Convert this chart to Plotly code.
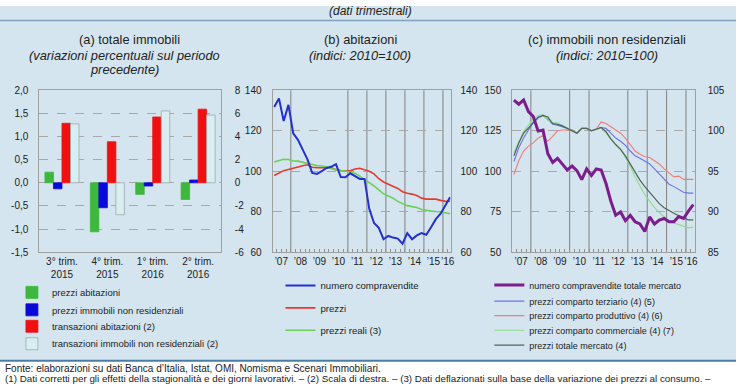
import plotly.graph_objects as go

# ---------------- DATA ----------------
# Panel (a): quarterly % changes
a_categories = ["3° trim.<br>2015", "4° trim.<br>2015", "1° trim.<br>2016", "2° trim.<br>2016"]
a_prezzi_abitazioni = [0.23, -1.06, -0.25, -0.36]          # left axis
a_prezzi_non_res = [-0.13, -0.54, -0.07, 0.06]             # left axis
a_transazioni_abitazioni = [5.15, 3.55, 5.69, 6.37]        # right axis
a_transazioni_non_res = [5.10, -2.76, 6.22, 5.86]          # right axis
a_left_tickvals = [-1.5, -1.0, -0.5, 0.0, 0.5, 1.0, 1.5, 2.0]
a_left_ticktext = ["-1,5", "-1,0", "-0,5", "0,0", "0,5", "1,0", "1,5", "2,0"]
a_right_tickvals = [-6, -4, -2, 0, 2, 4, 6, 8]
a_right_ticktext = ["-6", "-4", "-2", "0", "2", "4", "6", "8"]

# Quarterly series 2007Q1 .. 2016Q2 (38 quarters)
quarters = list(range(38))
year_labels = ["’07", "’08", "’09", "’10", "’11", "’12", "’13", "’14", "’15", "’16"]
year_label_pos = [1.5, 5.5, 9.5, 13.5, 17.5, 21.5, 25.5, 29.5, 33.5, 36.5]

# Panel (b): abitazioni (2010=100)
b_compravendite = [131.8, 136.0, 124.8, 132.8, 118.7, 115.5, 110.7, 105.9, 99.2, 98.7,
                   100.0, 101.6, 102.2, 103.5, 97.1, 97.0, 99.0, 97.4, 96.2, 96.2,
                   81.4, 74.4, 72.0, 66.4, 68.0, 67.2, 66.7, 64.2, 69.4, 66.4,
                   68.3, 69.4, 68.6, 72.3, 76.3, 79.0, 83.0, 87.2]
b_prezzi = [97.9, 99.2, 100.3, 100.9, 101.6, 102.0, 102.7, 103.2, 102.0, 101.8,
            101.8, 101.8, 101.7, 100.8, 100.3, 100.2, 100.2, 101.1, 101.5, 100.7,
            100.0, 98.7, 96.3, 94.7, 93.6, 92.6, 91.5, 89.9, 89.1, 88.7,
            88.0, 86.7, 86.2, 86.3, 86.2, 85.6, 85.1, 85.2]
b_prezzi_reali = [104.6, 105.1, 105.9, 105.8, 105.1, 105.0, 104.5, 103.8, 103.2, 102.8,
                  102.6, 102.2, 101.3, 100.7, 100.3, 100.1, 99.6, 99.0, 97.6, 96.2,
                  94.4, 92.7, 90.7, 88.8, 87.8, 86.7, 85.1, 84.0, 83.0, 82.5,
                  82.1, 81.1, 80.6, 80.3, 80.1, 80.0, 79.5, 79.0]
b_vline_years = [2008, 2011, 2012, 2013, 2014, 2015, 2016]

# Panel (c): immobili non residenziali (2010=100)
c_compravendite = [144.0, 141.4, 144.0, 136.8, 133.8, 124.8, 125.4, 110.8, 105.4, 108.0,
                   104.4, 100.8, 103.2, 100.4, 94.8, 101.4, 97.4, 101.4, 100.8, 92.4,
                   81.4, 72.8, 74.8, 69.4, 72.8, 68.8, 67.4, 62.8, 71.8, 67.4,
                   69.8, 70.8, 68.8, 68.8, 72.0, 70.8, 75.4, 79.4]
c_terziario = [96.2, 97.9, 99.1, 100.1, 101.1, 101.7, 101.9, 101.4, 100.8, 100.7,
               100.5, 100.3, 100.1, 99.7, 100.3, 100.3, 100.0, 100.2, 100.4, 100.3,
               99.7, 99.1, 98.7, 98.2, 97.5, 96.9, 96.6, 96.3, 95.9, 95.3,
               94.7, 94.1, 93.4, 93.1, 92.7, 92.4, 92.3, 92.3]
c_produttivo = [94.6, 96.3, 97.5, 98.1, 98.5, 99.1, 99.4, 98.7, 99.3, 100.0,
                100.1, 100.1, 100.0, 99.7, 100.3, 100.3, 100.0, 100.2, 101.1, 100.9,
                100.5, 100.1, 99.7, 99.1, 98.3, 97.5, 97.1, 96.8, 96.7, 96.3,
                95.9, 95.3, 94.8, 94.3, 94.4, 94.0, 94.0, 94.0]
c_commerciale = [97.3, 98.7, 99.9, 100.7, 101.5, 101.9, 102.0, 101.3, 101.0, 101.0,
                 100.7, 100.4, 100.1, 99.7, 100.3, 100.3, 100.0, 100.2, 100.4, 99.7,
                 98.9, 98.3, 97.7, 96.7, 95.6, 94.3, 93.1, 92.1, 91.3, 90.5,
                 89.9, 89.3, 88.8, 88.6, 88.4, 88.2, 88.0, 88.1]
c_totale = [96.9, 98.5, 99.7, 100.3, 100.9, 101.6, 101.9, 101.7, 100.9, 100.8,
            100.6, 100.3, 100.1, 99.7, 100.3, 100.3, 100.0, 100.2, 100.4, 99.9,
            99.0, 98.3, 97.7, 96.9, 95.9, 94.9, 93.9, 93.1, 92.4, 91.7,
            91.0, 90.5, 90.1, 89.8, 89.5, 89.2, 89.0, 89.0]
c_vline_years = [2008, 2010, 2011, 2013, 2014, 2015, 2016]

# ---------------- STYLE ----------------
W, H = 740, 389
FONT = "Liberation Sans, Arial, sans-serif"
TXT = "#222222"
FRAME = "#a0a0a0"
GRID = "#a8a8a8"
BG_BLUE = "#d5e5ef"

def fx(px):
    return px / W

def fy(py):
    return 1 - py / H

dom_a = [fx(39.5), fx(222)]
dom_b = [fx(274), fx(453)]
dom_c = [fx(515), fx(698.5)]
dom_y = [fy(254), fy(87)]

fig = go.Figure()

# ---- Panel (a) bars ----
bar_specs = [
    ("prezzi abitazioni", a_prezzi_abitazioni, "y", "#3cb83c", "#3cb83c", "legend"),
    ("prezzi immobili non residenziali", a_prezzi_non_res, "y", "#0a0ad8", "#0a0ad8", "legend2"),
    ("transazioni abitazioni (2)", a_transazioni_abitazioni, "y2", "#f01010", "#f01010", "legend3"),
    ("transazioni immobili non residenziali (2)", a_transazioni_non_res, "y2", "#d9eef0", "#9aa8ac", "legend4"),
]
for k, (name, vals, yax, col, lcol, leg) in enumerate(bar_specs):
    fig.add_trace(go.Bar(
        x=a_categories, y=vals, name=name, xaxis="x", yaxis=yax,
        marker=dict(color=col, line=dict(color=lcol, width=0.8)),
        offsetgroup=str(k), alignmentgroup="a", legend=leg,
    ))

# ---- Panel (b) lines ----
fig.add_trace(go.Scatter(x=quarters, y=b_prezzi, name="prezzi", mode="lines",
                         line=dict(color="#e43a2f", width=1.6), xaxis="x2", yaxis="y3", legend="legend6"))
fig.add_trace(go.Scatter(x=quarters, y=b_prezzi_reali, name="prezzi reali (3)", mode="lines",
                         line=dict(color="#6ccf58", width=1.6), xaxis="x2", yaxis="y3", legend="legend7"))
fig.add_trace(go.Scatter(x=quarters, y=b_compravendite, name="numero compravendite", mode="lines",
                         line=dict(color="#2230d0", width=2), xaxis="x2", yaxis="y4", legend="legend5"))

# ---- Panel (c) lines ----
c_specs = [
    ("prezzi comparto terziario (4) (5)", c_terziario, "#6a72e6", 1.1, "legend9"),
    ("prezzi comparto produttivo (4) (6)", c_produttivo, "#f07c78", 1.1, "legend10"),
    ("prezzi comparto commerciale (4) (7)", c_commerciale, "#8ddc8a", 1.1, "legend11"),
    ("prezzi totale mercato (4)", c_totale, "#4f6458", 1.2, "legend12"),
]
for name, vals, col, w, leg in c_specs:
    fig.add_trace(go.Scatter(x=quarters, y=vals, name=name, mode="lines",
                             line=dict(color=col, width=w), xaxis="x3", yaxis="y5", legend=leg))
fig.add_trace(go.Scatter(x=quarters, y=c_compravendite, name="numero compravendite totale mercato",
                         mode="lines", line=dict(color="#7b1d8c", width=3), xaxis="x3", yaxis="y6",
                         legend="legend8"))

# ---------------- AXES ----------------
tickfont = dict(family=FONT, size=10, color=TXT)
common_y = dict(showline=True, mirror=True, linecolor=FRAME, linewidth=1, ticks="",
                tickfont=tickfont, zeroline=False, fixedrange=True)
grid_style = dict(showgrid=True, gridcolor=GRID, griddash="dash", gridwidth=0.8)

year_minor = dict(ticks="inside", ticklen=3, tick0=0.5, dtick=1, tickcolor="#909090", showgrid=False)

fig.update_layout(
    xaxis=dict(domain=dom_a, anchor="y", type="category", showline=True, mirror=True,
               linecolor=FRAME, ticks="", tickfont=dict(family=FONT, size=10, color=TXT),
               showgrid=False, tickangle=0),
    yaxis=dict(domain=dom_y, anchor="x", range=[-1.5, 2.0], tickmode="array",
               tickvals=a_left_tickvals, ticktext=a_left_ticktext, ticklabelstandoff=8,
               **grid_style, **common_y),
    yaxis2=dict(overlaying="y", side="right", anchor="x", range=[-6, 8], tickmode="array",
                tickvals=a_right_tickvals, ticktext=a_right_ticktext, showgrid=False,
                ticklabelstandoff=11, **common_y),
    xaxis2=dict(domain=dom_b, anchor="y3", range=[-0.35, 37.1], tickmode="array",
                tickvals=year_label_pos, ticktext=year_labels, ticks="", showgrid=False,
                showline=True, mirror=True, linecolor=FRAME, tickfont=tickfont, tickangle=0,
                zeroline=False, minor=year_minor),
    yaxis3=dict(domain=dom_y, anchor="x2", range=[60, 140], tickmode="array",
                tickvals=[60, 80, 100, 120, 140], ticklabelstandoff=8, **grid_style, **common_y),
    yaxis4=dict(overlaying="y3", side="right", anchor="x2", range=[60, 140], tickmode="array",
                tickvals=[60, 80, 100, 120, 140], showgrid=False, ticklabelstandoff=7, **common_y),
    xaxis3=dict(domain=dom_c, anchor="y5", range=[-0.35, 37.3], tickmode="array",
                tickvals=year_label_pos, ticktext=year_labels, ticks="", showgrid=False,
                showline=True, mirror=True, linecolor=FRAME, tickfont=tickfont, tickangle=0,
                zeroline=False, minor=year_minor),
    yaxis5=dict(domain=dom_y, anchor="x3", side="right", range=[85, 105], tickmode="array",
                tickvals=[85, 90, 95, 100, 105], ticklabelstandoff=10, **grid_style, **common_y),
    yaxis6=dict(overlaying="y5", side="left", anchor="x3", range=[50, 150], tickmode="array",
                tickvals=[50, 75, 100, 125, 150], showgrid=False, ticklabelstandoff=8, **common_y),
)

# ---------------- SHAPES ----------------
shapes = [
    dict(type="rect", xref="paper", yref="paper", x0=0, x1=1, y0=fy(366), y1=1,
         fillcolor=BG_BLUE, line=dict(width=0), layer="below"),
    dict(type="line", xref="paper", yref="paper", x0=0, x1=1, y0=fy(15), y1=fy(15),
         line=dict(color="#7fa3c0", width=1.5), layer="below"),
    dict(type="line", xref="paper", yref="paper", x0=0, x1=1, y0=fy(366), y1=fy(366),
         line=dict(color="#4a7da6", width=2), layer="below"),
]
for yr in b_vline_years:
    q = (yr - 2007) * 4 - 0.5
    shapes.append(dict(type="line", xref="x2", yref="y3 domain", x0=q, x1=q, y0=0, y1=1,
                       line=dict(color="#808080", width=1), layer="below"))
for yr in c_vline_years:
    q = (yr - 2007) * 4 - 0.5
    shapes.append(dict(type="line", xref="x3", yref="y5 domain", x0=q, x1=q, y0=0, y1=1,
                       line=dict(color="#808080", width=1), layer="below"))
fig.update_layout(shapes=shapes)

# ---------------- TEXT ----------------
ann = []
def add_text(text, x, y, size, italic=False, anchor="center"):
    ann.append(dict(text=text, x=fx(x), y=fy(y), xref="paper", yref="paper",
                    xanchor=anchor, yanchor="middle", showarrow=False,
                    font=dict(family=FONT, size=size, color=TXT,
                              style="italic" if italic else "normal")))

add_text("(dati trimestrali)", 373, 5, 12, italic=True)
add_text("(a) totale immobili", 130, 35, 12.8)
add_text("(variazioni percentuali sul periodo", 125, 51, 12.8, italic=True)
add_text("precedente)", 125, 66, 12.8, italic=True)
add_text("(b) abitazioni", 362, 35, 12.8)
add_text("(indici: 2010=100)", 362, 51, 12.8, italic=True)
add_text("(c) immobili non residenziali", 610, 35, 12.8)
add_text("(indici: 2010=100)", 610, 51, 12.8, italic=True)
add_text("Fonte: elaborazioni su dati Banca d’Italia, Istat, OMI, Nomisma e Scenari Immobiliari.",
         3, 374, 10, anchor="left")
add_text("(1) Dati corretti per gli effetti della stagionalità e dei giorni lavorativi. – (2) Scala di destra. – "
         "(3) Dati deflazionati sulla base della variazione dei prezzi al consumo. –",
         3, 384.5, 9.8, anchor="left")
fig.update_layout(annotations=ann)

# ---------------- LEGENDS ----------------
legend_pos = {
    "legend": (52, 295.5, 9.5), "legend2": (52, 313.5, 9.5), "legend3": (52, 330.5, 9.5),
    "legend4": (52, 348.5, 9.5),
    "legend5": (322, 288.5, 9.6), "legend6": (322, 311.5, 9.6), "legend7": (322, 334.5, 9.6),
    "legend8": (532, 288, 9), "legend9": (532, 304.5, 9), "legend10": (532, 319.5, 9),
    "legend11": (532, 334.5, 9), "legend12": (532, 350, 9),
}
legs = {}
for lid, (tx, ty, fs) in legend_pos.items():
    legs[lid] = dict(x=fx(tx - 40), y=fy(ty), xanchor="left", yanchor="middle",
                     bgcolor="rgba(0,0,0,0)", borderwidth=0,
                     font=dict(family=FONT, size=fs, color=TXT))
fig.update_layout(**legs)

fig.update_layout(
    width=W, height=H, margin=dict(l=0, r=0, t=0, b=0),
    paper_bgcolor="white", plot_bgcolor="white",
    barmode="group", bargap=0.25, bargroupgap=0,
    showlegend=True,
    font=dict(family=FONT, color=TXT),
)

fig.write_html("out.html", config={"displayModeBar": False},
               post_script="document.body.style.margin='0';document.body.style.overflow='hidden';")
